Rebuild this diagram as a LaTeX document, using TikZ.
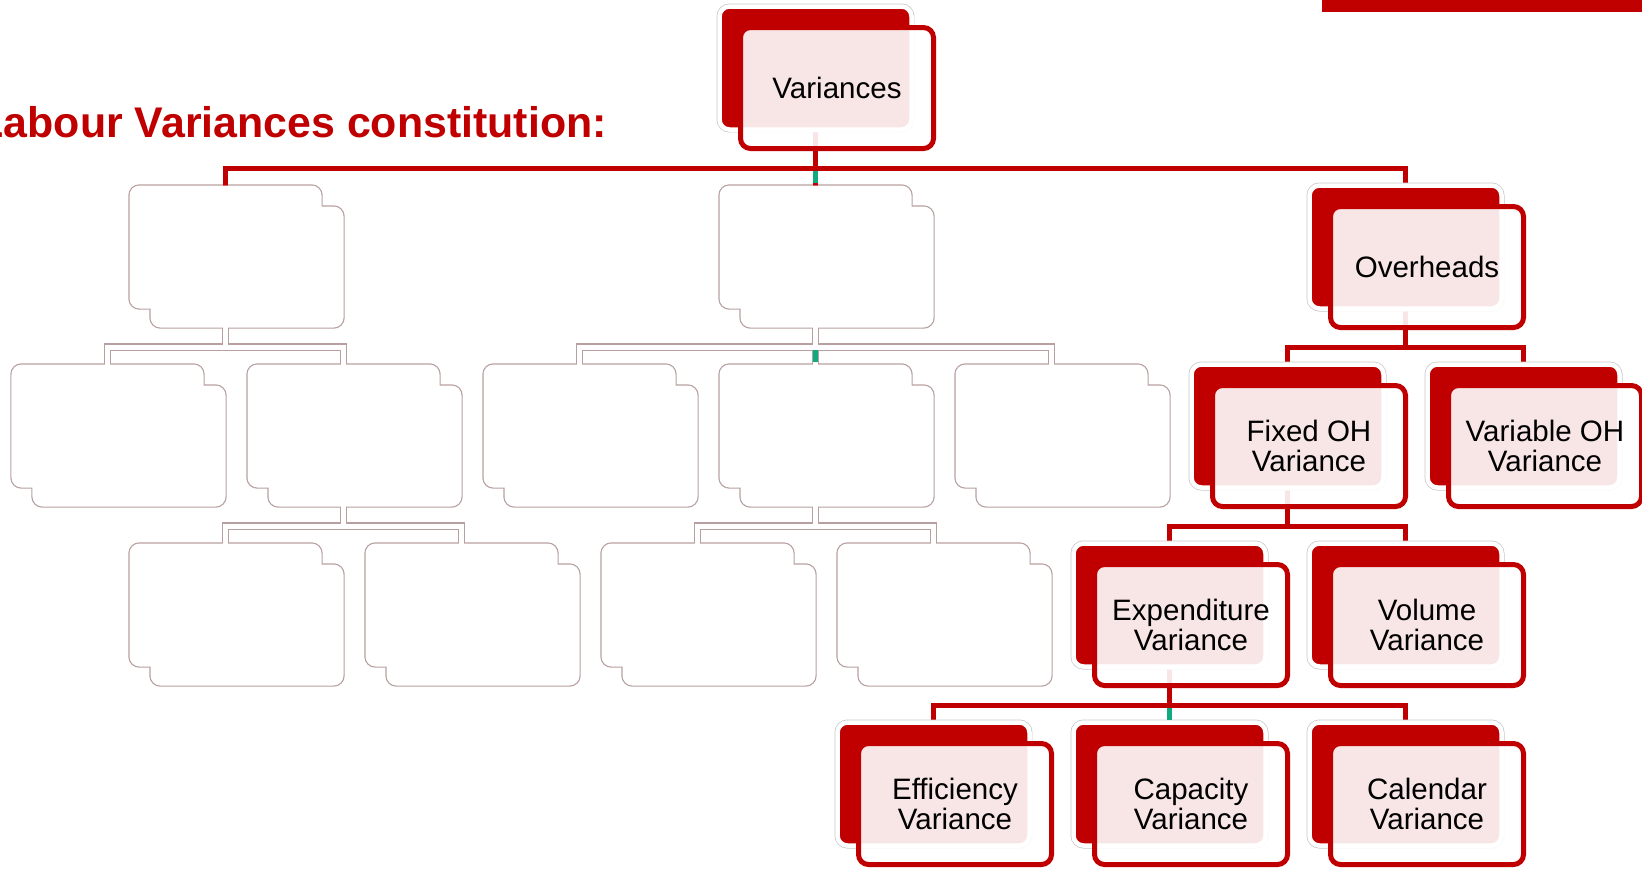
\documentclass[tikz,border=0pt]{standalone}
\usepackage{fontspec}
\setmainfont{Liberation Sans}
\usetikzlibrary{backgrounds}
\definecolor{boxred}{RGB}{192,0,0}
\definecolor{ghostline}{RGB}{185,160,160}
\definecolor{rimgray}{RGB}{200,200,200}
\definecolor{stubgreen}{RGB}{16,170,128}
\tikzset{
  backbox/.style={rectangle, rounded corners=0.1cm, minimum width=1.92cm,
    minimum height=1.23cm, inner sep=0pt, outer sep=0pt, fill=boxred,
    draw=white, line width=1.28pt, preaction={draw=rimgray, line width=1.7pt}},
  frontbox/.style={rectangle, rounded corners=0.1cm, minimum width=1.93cm,
    minimum height=1.21cm, inner sep=0pt, outer sep=0pt, xshift=0.215cm,
    yshift=-0.2cm, fill=white, fill opacity=0.9, text opacity=1, draw=boxred,
    line width=1.42pt, align=center, font=\fontsize{8.4}{8.6}\selectfont},
  ghostback/.style={rectangle, rounded corners=0.1cm, minimum width=1.92cm,
    minimum height=1.23cm, inner sep=0pt, outer sep=0pt, fill=white},
  ghostfront/.style={ghostback, minimum width=1.93cm, minimum height=1.21cm,
    xshift=0.215cm, yshift=-0.2cm},
  ghostrim/.style={draw=ghostline, line width=0.7pt, rounded corners=0.1cm},
  conn/.style={draw=boxred, line width=1.42pt},
  ghostedge/.style={draw=ghostline, line width=2pt},
  ghostcore/.style={draw=white, line width=1.42pt},
  stub/.style={draw=stubgreen, line width=1.6pt},
  title/.style={text=boxred, font=\fontsize{12.2}{14}\selectfont\bfseries, inner sep=0pt}
}

\begin{document}
\begin{tikzpicture}
  \useasboundingbox (0,0) rectangle (16.42,-8.68);
  \fill[boxred] (13.22,0) rectangle (16.42,-0.117);
  \node[title, anchor=base west] (ttl) at (-0.23,-1.377) {Labour Variances constitution:};

  % row 0
  \node[backbox] (var) at (8.155,-0.68) {};
  \node[frontbox] (var-f) at (var) {Variances};
  % row 1
  \node[ghostback] (gA) at (2.255,-2.47) {};
  \node[ghostfront] (gA-f) at (gA) {};
  \node[ghostback] (gB) at (8.155,-2.47) {};
  \node[ghostfront] (gB-f) at (gB) {};
  \node[backbox] (ovh) at (14.055,-2.47) {};
  \node[frontbox] (ovh-f) at (ovh) {Overheads};
  % row 2
  \node[ghostback] (gA1) at (1.075,-4.26) {};
  \node[ghostfront] (gA1-f) at (gA1) {};
  \node[ghostback] (gA2) at (3.435,-4.26) {};
  \node[ghostfront] (gA2-f) at (gA2) {};
  \node[ghostback] (gB1) at (5.795,-4.26) {};
  \node[ghostfront] (gB1-f) at (gB1) {};
  \node[ghostback] (gB2) at (8.155,-4.26) {};
  \node[ghostfront] (gB2-f) at (gB2) {};
  \node[ghostback] (gB3) at (10.515,-4.26) {};
  \node[ghostfront] (gB3-f) at (gB3) {};
  \node[backbox] (fix) at (12.875,-4.26) {};
  \node[frontbox] (fix-f) at (fix) {Fixed OH\\Variance};
  \node[backbox] (vov) at (15.235,-4.26) {};
  \node[frontbox] (vov-f) at (vov) {Variable OH\\Variance};
  % row 3
  \node[ghostback] (gC1) at (2.255,-6.05) {};
  \node[ghostfront] (gC1-f) at (gC1) {};
  \node[ghostback] (gC2) at (4.615,-6.05) {};
  \node[ghostfront] (gC2-f) at (gC2) {};
  \node[ghostback] (gD1) at (6.975,-6.05) {};
  \node[ghostfront] (gD1-f) at (gD1) {};
  \node[ghostback] (gD2) at (9.335,-6.05) {};
  \node[ghostfront] (gD2-f) at (gD2) {};
  \node[backbox] (exp) at (11.695,-6.05) {};
  \node[frontbox] (exp-f) at (exp) {Expenditure\\Variance};
  \node[backbox] (vol) at (14.055,-6.05) {};
  \node[frontbox] (vol-f) at (vol) {Volume\\Variance};
  % row 4
  \node[backbox] (eff) at (9.335,-7.84) {};
  \node[frontbox] (eff-f) at (eff) {Efficiency\\Variance};
  \node[backbox] (cap) at (11.695,-7.84) {};
  \node[frontbox] (cap-f) at (cap) {Capacity\\Variance};
  \node[backbox] (cal) at (14.055,-7.84) {};
  \node[frontbox] (cal-f) at (cal) {Calendar\\Variance};

  \begin{pgfonlayer}{background}
    \foreach \g in {gA,gB,gA1,gA2,gB1,gB2,gB3,gC1,gC2,gD1,gD2}
      \draw[ghostrim] (\g.south west) rectangle (\g.north east)
        (\g-f.south west) rectangle (\g-f.north east);
    \foreach \p/\c in {gA/gA1,gA/gA2,gB/gB1,gB/gB2,gB/gB3,gA2/gC1,gA2/gC2,gB2/gD1,gB2/gD2}
      \draw[ghostedge] (\p.south) -- ++(0,-0.385) -| (\c.north);
    \foreach \p/\c in {var/gA,var/gB,var/ovh,ovh/fix,ovh/vov,fix/exp,fix/vol,exp/eff,exp/cap,exp/cal}
      \draw[conn] (\p.south) -- ++(0,-0.385) -| (\c.north);
  \end{pgfonlayer}
  \foreach \p/\c in {gA/gA1,gA/gA2,gB/gB1,gB/gB2,gB/gB3,gA2/gC1,gA2/gC2,gB2/gD1,gB2/gD2}
    \draw[ghostcore] (\p.south) -- ++(0,-0.385) -| (\c.north);
  % straight drops
  \foreach \c in {gB,gB2,cap}
    \draw[stub] ([yshift=0.025cm]\c.north) -- ++(0,0.125);
\end{tikzpicture}
\end{document}
